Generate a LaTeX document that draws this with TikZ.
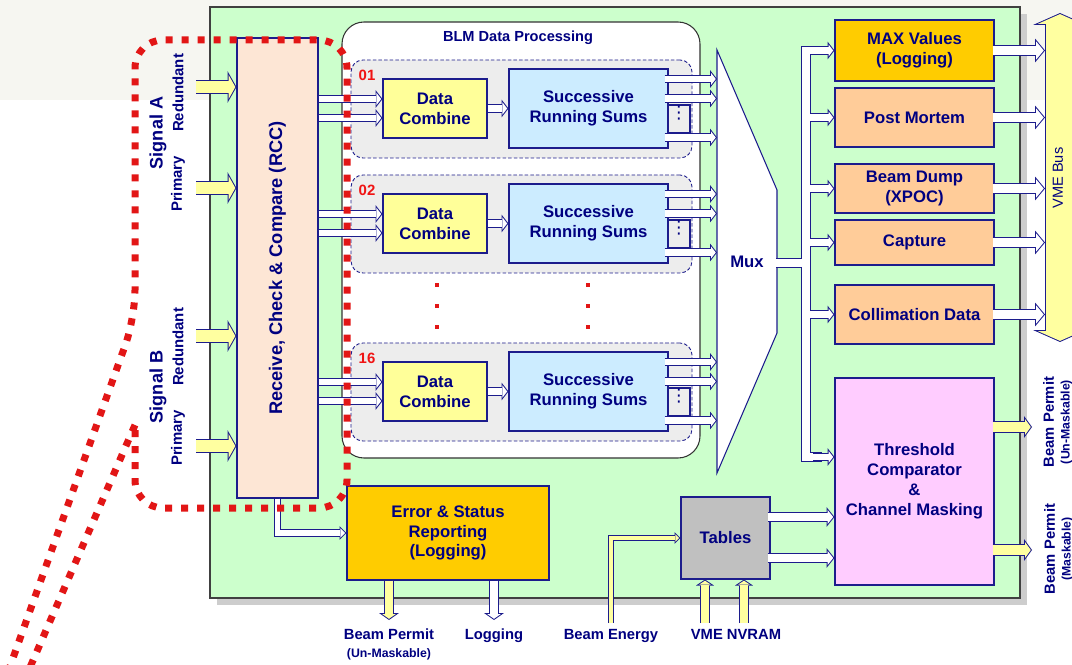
\documentclass[tikz,border=0pt]{standalone}
\usepackage{fontspec}
\setmainfont{Liberation Sans}
\newfontfamily\dotsfont{DejaVu Sans}
\usetikzlibrary{arrows.meta,fit,calc}

\definecolor{navytext}{RGB}{0,0,128}
\definecolor{navyline}{RGB}{28,28,140}
\definecolor{boardgreen}{RGB}{204,255,204}
\definecolor{rccfill}{RGB}{253,230,213}
\definecolor{dcfill}{RGB}{255,255,153}
\definecolor{srsfill}{RGB}{204,236,255}
\definecolor{chanfill}{RGB}{237,237,237}
\definecolor{goldfill}{RGB}{255,204,0}
\definecolor{orangefill}{RGB}{255,204,153}
\definecolor{pinkfill}{RGB}{255,204,255}
\definecolor{tablefill}{RGB}{192,192,192}
\definecolor{inyellow}{RGB}{255,255,160}
\definecolor{calloutred}{RGB}{226,22,22}
\definecolor{chred}{RGB}{240,20,20}
\definecolor{topband}{RGB}{246,246,241}
\definecolor{shadowgray}{RGB}{205,205,205}

\newcommand\boxfont{\fontsize{9.5}{11.3}\selectfont\bfseries}

\tikzset{
  hollow/.code n args={4}{%
    \pgfmathsetmacro\hwa{#1*0.5669}%
    \pgfmathsetmacro\hwb{(#1-2)*0.5669}%
    \pgfmathsetmacro\hk{sqrt((#2/2)^2+(#3)^2)/(#2/2)}%
    \pgfmathsetmacro\hli{#3-1-\hk}%
    \pgfmathsetmacro\hwi{#2*\hli/#3}%
    \pgfmathsetmacro\hla{#3*0.5669}%
    \pgfmathsetmacro\hha{#2*0.5669}%
    \pgfmathsetmacro\hlb{\hli*0.5669}%
    \pgfmathsetmacro\hhb{\hwi*0.5669}%
    \pgfmathsetmacro\hsh{\hk*0.5669}%
    \edef\hollowkeys{line width=\hwa pt, draw=navyline,
      -{Triangle[length=\hla pt,width=\hha pt,line width=0pt]},
      postaction={draw=#4, line width=\hwb pt, shorten >=\hsh pt,
        -{Triangle[length=\hlb pt,width=\hhb pt,line width=0pt]}}}%
    \expandafter\pgfkeysalso\expandafter{\hollowkeys}},
}

\begin{document}
\begin{tikzpicture}[x=0.2mm, y=-0.2mm,
    blk/.style={draw=navyline, line width=0.6pt, fill=#1, inner sep=0pt, align=center, text=navytext, font=\boxfont},
    chan/.style={draw=navyline, line width=0.5pt, dash pattern=on 2pt off 1.2pt, fill=chanfill, rounded corners=2.4mm, inner sep=0pt},
    chnum/.style={text=chred, font=\fontsize{8.5}{10}\selectfont\bfseries},
    lbl/.style={text=navytext, align=center, inner sep=1pt, font=\fontsize{8.4}{10}\selectfont\bfseries},
    sig/.style={text=navytext, rotate=90, font=\fontsize{10.3}{12}\selectfont\bfseries},
    sub/.style={text=navytext, rotate=90, font=\fontsize{8.5}{10}\selectfont\bfseries},
    callout/.style={draw=calloutred, line width=1.4mm, dash pattern=on 1.4mm off 1.8mm},
    datarr/.style={hollow={9}{18}{7}{white}},
    errarr/.style={hollow={8}{14}{7}{white}},
    vmearr/.style={hollow={12}{24}{10}{white}},
    tabarr/.style={hollow={11}{20}{8}{white}},
    sigarr/.style={hollow={15}{32}{9}{inyellow}},
    permitarr/.style={hollow={12}{22}{8}{inyellow}},
    downarr/.style={hollow={10}{20}{7}{#1}},
    nvarr/.style={hollow={10}{18}{6}{inyellow}},
    energyarr/.style={hollow={7}{12}{6}{inyellow}},
    vmebus/.style={line width=17pt, draw=navyline,
      {Triangle[length=6.8pt,width=30.6pt,line width=0pt]}-{Triangle[length=6.8pt,width=30.6pt,line width=0pt]},
      postaction={draw=inyellow, line width=15.9pt, shorten <=0.62pt, shorten >=0.62pt,
        {Triangle[length=5.6pt,width=25.3pt,line width=0pt]}-{Triangle[length=5.6pt,width=25.3pt,line width=0pt]}}}]
  \useasboundingbox (0,0) rectangle (1072,665);
  \fill[white] (0,0) rectangle (1072,665);
  \fill[topband] (0,0) rectangle (1072,100);
  \fill[shadowgray] (217,14) rectangle (1027,605);
  \node[fill=boardgreen, draw=black!75, line width=0.8pt, inner sep=0pt, fit={(210,7) (1020,598)}] (board) {};

  \node[blk=rccfill, fit={(237,38) (318,498)}] (rcc) {};
  \node[rotate=90, text=navytext, font=\fontsize{10.4}{12}\selectfont\bfseries] (rcctxt) at (rcc.center) {Receive, Check \& Compare (RCC)};

  \node[sig] (siga) at (158,133) {Signal A};
  \node[sub] (reda) at (178,93) {Redundant};
  \node[sub] (pria) at (178,184) {Primary};
  \node[sig] (sigb) at (158,387) {Signal B};
  \node[sub] (redb) at (178,347) {Redundant};
  \node[sub] (prib) at (178,438) {Primary};
  \foreach \nm/\y in {ar/87, ap/188, br/336, bp/446} {
    \coordinate (in\nm) at (196,\y);
    \draw[sigarr] (in\nm) -- (rcc.west |- in\nm);
  }

  \node[draw=black!80, line width=0.6pt, fill=white, rounded corners=4.4mm, inner sep=0pt, fit={(342,22) (700,458)}] (blm) {};
  \node[text=navytext, font=\fontsize{8.3}{10}\selectfont\bfseries] (blmtitle) at (518,38) {BLM Data Processing};

  \coordinate (muxnw) at (717,50);
  \draw[draw=navyline, line width=0.6pt, fill=white] (muxnw) -- (777,190) -- (777,333) -- (717,473) -- cycle;
  \node[text=navytext, font=\boxfont] (mux) at (747,262) {Mux};
  \coordinate (muxout) at (777,263);
  \coordinate (bus) at (806,263);

  \foreach \cn/\ty in {01/60, 02/175, 16/343} {
    \node[chan, fit={(351,\ty) (692,\ty+98)}] (ch\cn) {};
    \node[chnum] (num\cn) at (367,\ty+15) {\cn};
    \node[blk=dcfill, minimum width=20.8mm, minimum height=11.8mm] (dc\cn) at (435,\ty+48.5) {Data\\Combine};
    \node[blk=srsfill, minimum width=31.8mm, minimum height=15.8mm] (srs\cn) at (588.5,\ty+48.5) {Successive\\Running Sums};
    \node[draw=navyline, line width=0.6pt, fill=chanfill, inner sep=0pt, text=navytext, fit={(668,\ty+45) (690,\ty+73)}] (dots\cn) {\dotsfont ⋮};
    \coordinate (ia\cn) at ($(dc\cn.west)+(0,-9.5)$);
    \coordinate (ib\cn) at ($(dc\cn.west)+(0,9.5)$);
    \draw[datarr] (rcc.east |- ia\cn) -- (ia\cn);
    \draw[datarr] (rcc.east |- ib\cn) -- (ib\cn);
    \draw[datarr] (dc\cn.east) -- (srs\cn.west);
    \foreach \dy in {-29.5,-10,29} {
      \coordinate (o) at ($(srs\cn.east)+(-4,\dy)$);
      \draw[datarr] (o) -- (o -| muxnw);
    }
  }
  \foreach \x in {437,588} \foreach \y in {285,306,327}
    \fill[calloutred] (\x-2,\y-2) rectangle (\x+2,\y+2);

  \node[blk=goldfill, minimum width=31.8mm, minimum height=12.2mm] (maxv) at (914.5,50.5) {MAX Values\\(Logging)};
  \node[blk=orangefill, minimum width=31.8mm, minimum height=11.8mm] (pm) at (914.5,117.5) {Post Mortem};
  \node[blk=orangefill, minimum width=31.8mm, minimum height=9.8mm] (bd) at (914.5,188.5) {Beam Dump\\(XPOC)};
  \node[blk=orangefill, minimum width=31.8mm, minimum height=9mm] (cap) at (914.5,242.5) {Capture};
  \node[blk=orangefill, minimum width=31.8mm, minimum height=11.8mm] (col) at (914.5,314.5) {Collimation Data};
  \node[blk=pinkfill, minimum width=31.8mm, minimum height=41.4mm] (thr) at (914.5,481.5) {Threshold\\Comparator\\\&\\Channel Masking};
  \coordinate (thrin) at ([yshift=4.9mm]thr.west);

  \foreach \lw/\cl in {5.67pt/navyline, 4.53pt/white}
    \draw[line width=\lw, draw=\cl] ([xshift=-0.2mm]muxout) -- (bus)
      ([xshift=-2.4mm]maxv.west) -| (bus |- thrin) -- ([xshift=-2.4mm]thrin)
      (bus |- pm.west) -- ([xshift=-2.4mm]pm.west)
      (bus |- bd.west) -- ([xshift=-2.4mm]bd.west)
      (bus |- cap.west) -- ([xshift=-2.4mm]cap.west)
      (bus |- col.west) -- ([xshift=-2.4mm]col.west);
  \foreach \b in {maxv.west, pm.west, bd.west, cap.west, col.west, thrin}
    \draw[datarr] ([xshift=-4.2mm]\b) -- (\b);

  \coordinate (vmetop) at (1060,13);
  \coordinate (vmebot) at (1060,342);
  \draw[vmebus] (vmebot) -- (vmetop);
  \node[rotate=90, text=navytext, font=\fontsize{8.3}{10}\selectfont] (vmelbl) at (1058,178) {VME Bus};
  \coordinate (vmex) at (1045,0);
  \foreach \b in {maxv, pm, bd, cap, col}
    \draw[vmearr] ([xshift=-0.4mm]\b.east) -- (\b.east -| vmex);

  \coordinate (bpx) at (1032,0);
  \coordinate (thu) at ([yshift=10.9mm]thr.east);
  \coordinate (thm) at ([yshift=-13.7mm]thr.east);
  \draw[permitarr] ([xshift=-0.4mm]thu) -- (thu -| bpx);
  \draw[permitarr] ([xshift=-0.4mm]thm) -- (thm -| bpx);
  \node[lbl, rotate=90, anchor=north] (bpu) at (1041,422) {Beam Permit\\[-1pt]{\fontsize{7}{8}\selectfont(Un-Maskable)}};
  \node[lbl, rotate=90, anchor=north] (bpk) at (1042,549) {Beam Permit\\[-1pt]{\fontsize{7}{8}\selectfont(Maskable)}};

  \node[blk=goldfill, minimum width=40.4mm, minimum height=18.8mm] (err) at (448,533) {Error \& Status\\Reporting\\(Logging)};
  \draw[errarr] (rcc.south) |- (err.west);
  \node[blk=tablefill, minimum width=17.8mm, minimum height=16.4mm] (tab) at (725.5,538) {Tables};
  \coordinate (tb1) at ([yshift=4.2mm]tab.east);
  \coordinate (tb2) at ([yshift=-4mm]tab.east);
  \draw[tabarr] ([xshift=-0.6mm]tb1) -- (tb1 -| thr.west);
  \draw[tabarr] ([xshift=-0.6mm]tb2) -- (tb2 -| thr.west);

  \node[lbl, anchor=north] (bpm) at (389,627) {Beam Permit\\{\fontsize{7}{8}\selectfont(Un-Maskable)}};
  \node[lbl, anchor=north] (logl) at (494,627) {Logging};
  \node[lbl, anchor=north] (be) at (611,627) {Beam Energy};
  \node[lbl, anchor=north] (nvram) at (736,627) {VME NVRAM};
  \draw[downarr=inyellow] (err.south -| bpm.north) -- ([yshift=1.4mm]bpm.north);
  \draw[downarr=white] (err.south -| logl.north) -- ([yshift=1.4mm]logl.north);
  \draw[energyarr] ([yshift=0.8mm]be.north) |- (tab.west);
  \coordinate (nvtop) at ([yshift=0.8mm]nvram.north);
  \coordinate (nv1) at ([xshift=-4.1mm]tab.south);
  \coordinate (nv2) at ([xshift=3.7mm]tab.south);
  \draw[nvarr] (nvtop -| nv1) -- (nv1);
  \draw[nvarr] (nvtop -| nv2) -- (nv2);

  \draw[callout, rounded corners=5.6mm] (8,672) -- (135,318) -- (135,40) -- (347,40) -- (347,508) -- (135,508) -- (135,425);
  \draw[callout] (135,425) -- (28,672);
\end{tikzpicture}
\end{document}
